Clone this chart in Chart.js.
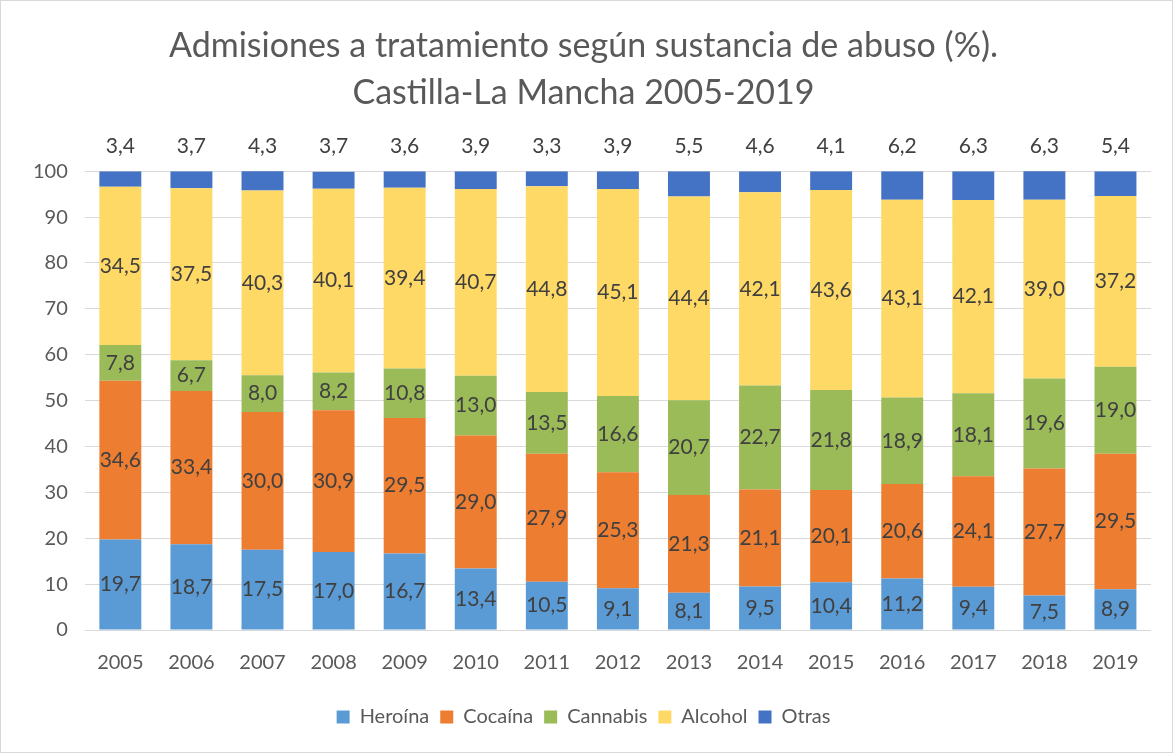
<!DOCTYPE html>
<html>
<head>
<meta charset="utf-8">
<script src="https://cdn.jsdelivr.net/npm/chart.js@4/dist/chart.umd.min.js"></script>
<style>
  html, body { margin: 0; padding: 0; background: #fff; }
  #wrap { width: 1173px; height: 753px; position: relative; }
</style>
</head>
<body>
<div id="wrap"><canvas id="chart"></canvas></div>
<script>
// Datos
const years = ['2005', '2006', '2007', '2008', '2009', '2010', '2011', '2012', '2013', '2014', '2015', '2016', '2017', '2018', '2019'];
const heroina  = [19.7, 18.7, 17.5, 17.0, 16.7, 13.4, 10.5, 9.1, 8.1, 9.5, 10.4, 11.2, 9.4, 7.5, 8.9];
const cocaina  = [34.6, 33.4, 30.0, 30.9, 29.5, 29.0, 27.9, 25.3, 21.3, 21.1, 20.1, 20.6, 24.1, 27.7, 29.5];
const cannabis = [7.8, 6.7, 8.0, 8.2, 10.8, 13.0, 13.5, 16.6, 20.7, 22.7, 21.8, 18.9, 18.1, 19.6, 19.0];
const alcohol  = [34.5, 37.5, 40.3, 40.1, 39.4, 40.7, 44.8, 45.1, 44.4, 42.1, 43.6, 43.1, 42.1, 39.0, 37.2];
const otras    = [3.4, 3.7, 4.3, 3.7, 3.6, 3.9, 3.3, 3.9, 5.5, 4.6, 4.1, 6.2, 6.3, 6.3, 5.4];

const FONT = 'Lato, "Open Sans", sans-serif';
const fmt = v => v.toFixed(1).replace('.', ',');

// draw the value labels on each segment (Otras goes above the bar)
const segmentLabels = {
    id: 'segmentLabels',
    afterDatasetsDraw(chart) {
        const ctx = chart.ctx;
        ctx.save();
        ctx.font = '21px ' + FONT;
        ctx.fillStyle = '#404040';
        ctx.textAlign = 'center';
        ctx.textBaseline = 'middle';
        chart.data.datasets.forEach((ds, di) => {
            const meta = chart.getDatasetMeta(di);
            meta.data.forEach((bar, i) => {
                const v = ds.data[i];
                let y = (bar.y + bar.base) / 2;
                if (di === chart.data.datasets.length - 1) y = bar.y - 25;
                ctx.fillText(fmt(v), bar.x, y);
            });
        });
        ctx.restore();
    }
};

// light frame round the chart, as in the Excel export
const frame = {
    id: 'frame',
    afterDraw(chart) {
        const ctx = chart.ctx;
        ctx.save();
        ctx.strokeStyle = '#d9d9d9';
        ctx.lineWidth = 1;
        ctx.strokeRect(0.5, 0.5, chart.width - 1, chart.height - 1);
        ctx.restore();
    }
};

const ctx = document.getElementById('chart').getContext('2d');
new Chart(ctx, {
    type: 'bar',
    data: {
        labels: years,
        datasets: [
            { label: 'Heroína',  data: heroina,  backgroundColor: '#5B9BD5' },
            { label: 'Cocaína',  data: cocaina,  backgroundColor: '#ED7D31' },
            { label: 'Cannabis', data: cannabis, backgroundColor: '#9BBB59' },
            { label: 'Alcohol',  data: alcohol,  backgroundColor: '#FFD966' },
            { label: 'Otras',    data: otras,    backgroundColor: '#4472C4' }
        ]
    },
    options: {
        responsive: true,
        maintainAspectRatio: false,
        animation: false,
        layout: { padding: { left: 16, right: 22, top: 0, bottom: 16 } },
        datasets: { bar: { barPercentage: 1, categoryPercentage: 0.59 } },
        scales: {
            x: {
                stacked: true,
                grid: { display: false },
                border: { display: false },
                ticks: { color: '#595959', font: { family: FONT, size: 20 }, padding: 13 },
                afterFit: axis => { axis.height += 8; }
            },
            y: {
                stacked: true,
                min: 0,
                max: 100,
                ticks: { stepSize: 10, color: '#595959', font: { family: FONT, size: 20 }, padding: 17 },
                grid: { color: '#d9d9d9', drawTicks: false },
                border: { display: false }
            }
        },
        plugins: {
            title: {
                display: true,
                text: ['Admisiones a tratamiento según sustancia de abuso (%).', 'Castilla-La Mancha 2005-2019'],
                color: '#595959',
                font: { family: FONT, size: 34, weight: 'normal', lineHeight: 1.4 },
                padding: { top: 22, bottom: 54 }
            },
            legend: {
                position: 'bottom',
                labels: {
                    color: '#595959',
                    font: { family: FONT, size: 20 },
                    boxWidth: 13,
                    boxHeight: 13,
                    padding: 11
                }
            },
            tooltip: { enabled: false }
        }
    },
    plugins: [segmentLabels, frame]
});
</script>
</body>
</html>
